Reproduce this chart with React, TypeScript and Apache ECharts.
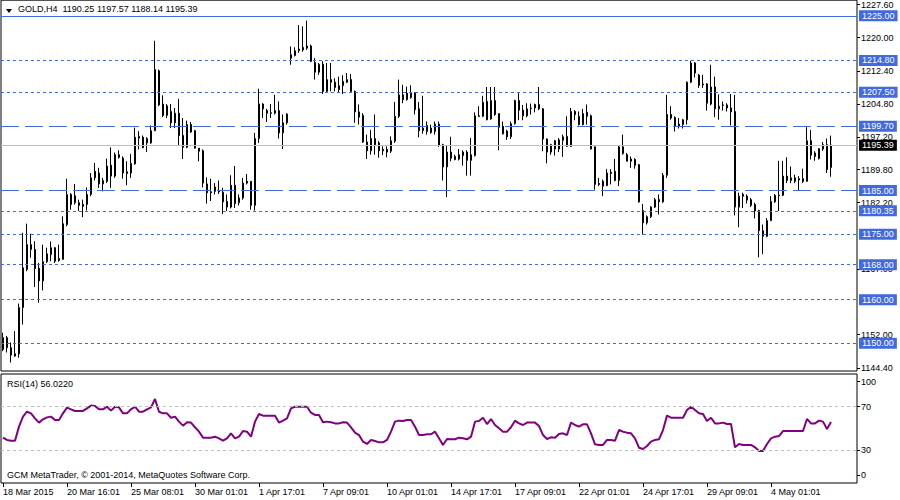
import React, { useEffect, useRef } from "react";
import * as echarts from "echarts";

// ---------- data ----------
const symbolName = "GOLD,H4";
const rsiName = "RSI(14)";
const copyright = "GCM MetaTrader, © 2001-2014, MetaQuotes Software Corp.";

const timeLabels = [
  "18 Mar 2015", "20 Mar 16:01", "25 Mar 08:01", "30 Mar 01:01", "1 Apr 17:01",
  "7 Apr 09:01", "10 Apr 01:01", "14 Apr 17:01", "17 Apr 09:01", "22 Apr 01:01",
  "24 Apr 17:01", "29 Apr 09:01", "4 May 01:01",
];

// visible price scale labels (those fully hidden behind level boxes are omitted)
const priceTicks = [1227.6, 1220.0, 1212.4, 1204.8, 1197.2, 1189.8, 1182.2, 1167.0, 1152.0, 1144.4];
const rsiTicks = [100, 70, 30, 0];
const rsiLevels = [70, 30];

const solidLevels = [1225.0];
const dashLevels = [1199.7, 1185.0];
const dotLevels = [1214.8, 1207.5, 1180.35, 1175.0, 1168.0, 1160.0, 1150.0];

// [open, high, low, close]
const candles: number[][] = [
  [1148.6,1152.4,1148.2,1151.3],[1151.3,1151.7,1147.9,1149.0],[1149.0,1150.2,1145.6,1147.3],[1147.6,1152.8,1146.9,1147.1],
  [1147.6,1159.1,1146.7,1158.2],[1158.2,1175.3,1154.3,1167.3],[1166.9,1177.4,1166.5,1172.6],[1172.6,1175.1,1169.6,1171.5],
  [1171.5,1173.4,1162.9,1167.1],[1167.2,1168.4,1159.3,1164.3],[1164.3,1172.6,1162.1,1168.7],[1168.7,1171.9,1168.4,1170.5],
  [1170.3,1173.3,1168.8,1171.9],[1171.9,1172.0,1168.4,1168.8],[1169.4,1172.6,1168.7,1169.0],[1169.2,1179.1,1169.2,1177.4],
  [1177.2,1187.7,1176.8,1184.1],[1184.1,1184.4,1180.6,1181.8],[1183.8,1186.5,1181.8,1182.2],[1182.2,1182.9,1180.3,1181.6],
  [1181.8,1182.9,1178.9,1181.4],[1181.8,1185.7,1180.4,1184.1],[1184.1,1189.0,1183.7,1187.9],[1187.9,1191.3,1187.3,1189.4],
  [1189.0,1190.2,1185.6,1186.5],[1186.5,1187.9,1184.8,1187.3],[1187.1,1192.3,1186.7,1190.6],[1190.8,1194.9,1185.6,1188.3],
  [1188.3,1193.7,1187.9,1193.2],[1193.2,1194.2,1192.3,1192.6],[1192.4,1192.8,1187.7,1189.0],[1189.3,1191.7,1186.2,1188.9],
  [1189.0,1193.4,1187.9,1191.2],[1191.1,1199.4,1190.9,1197.2],[1197.0,1198.6,1194.4,1197.4],[1197.2,1197.6,1194.7,1194.8],
  [1195.9,1197.2,1193.8,1196.9],[1195.9,1199.9,1195.7,1198.7],[1198.7,1219.3,1198.6,1212.7],[1212.4,1212.7,1204.3,1204.6],
  [1204.8,1206.8,1201.8,1202.2],[1202.2,1204.8,1201.6,1204.4],[1203.1,1204.8,1199.3,1200.5],[1200.5,1203.9,1199.3,1202.7],
  [1202.7,1206.0,1195.4,1197.6],[1197.6,1201.6,1192.2,1194.9],[1194.9,1201.0,1194.7,1200.1],[1200.1,1200.7,1198.2,1198.4],
  [1198.7,1198.9,1194.6,1194.7],[1194.7,1194.7,1191.7,1194.0],[1194.1,1194.4,1185.7,1186.7],[1186.5,1188.0,1182.0,1184.5],
  [1184.7,1187.7,1182.6,1184.5],[1184.8,1186.7,1184.1,1185.8],[1185.0,1187.3,1184.2,1184.7],[1184.6,1185.6,1179.6,1182.4],
  [1182.5,1184.1,1180.3,1181.2],[1181.2,1188.5,1180.9,1186.2],[1186.2,1190.6,1181.0,1182.0],[1182.2,1184.1,1181.6,1183.3],
  [1183.3,1187.9,1182.9,1186.7],[1187.1,1188.8,1186.4,1186.7],[1187.1,1187.1,1180.6,1181.6],[1181.6,1198.2,1180.4,1196.9],
  [1196.9,1208.3,1195.9,1204.8],[1204.8,1205.0,1201.6,1203.7],[1203.3,1203.7,1200.7,1202.7],[1202.8,1204.8,1201.6,1202.7],
  [1202.7,1206.9,1202.4,1203.3],[1203.3,1205.4,1196.9,1198.2],[1198.2,1202.4,1194.5,1200.5],[1200.5,1202.7,1200.1,1202.5],
  [1215.3,1218.0,1213.8,1216.1],[1215.9,1217.8,1215.7,1217.0],[1217.0,1222.9,1216.5,1217.4],[1217.2,1222.6,1216.8,1217.8],
  [1217.6,1223.9,1217.2,1218.1],[1218.1,1218.4,1214.4,1214.6],[1214.3,1215.3,1210.4,1212.1],[1212.1,1214.2,1211.5,1213.9],
  [1213.9,1214.6,1207.1,1207.7],[1207.7,1214.2,1207.5,1210.4],[1210.4,1214.2,1207.7,1209.8],[1209.8,1210.7,1207.7,1208.6],
  [1208.1,1211.1,1207.5,1209.0],[1209.0,1211.4,1207.1,1210.0],[1209.8,1211.9,1209.6,1210.4],[1210.4,1211.7,1207.5,1207.7],
  [1207.7,1207.9,1200.5,1203.0],[1203.0,1204.7,1200.1,1201.8],[1202.2,1202.7,1195.9,1196.1],[1196.1,1197.8,1192.2,1194.1],
  [1194.1,1198.9,1193.2,1196.9],[1196.9,1202.4,1193.2,1195.5],[1195.9,1196.3,1192.5,1194.1],[1194.4,1195.1,1193.1,1194.1],
  [1193.8,1195.1,1192.6,1194.4],[1194.0,1197.4,1193.6,1196.4],[1196.3,1205.3,1195.9,1202.0],[1202.0,1210.4,1201.6,1206.9],
  [1206.9,1209.2,1205.0,1205.8],[1205.8,1208.8,1205.6,1207.3],[1206.3,1209.1,1206.0,1207.3],[1207.3,1207.5,1202.4,1203.5],
  [1203.7,1205.3,1197.2,1198.7],[1198.7,1206.7,1198.0,1199.3],[1198.5,1200.8,1197.8,1199.9],[1199.3,1200.1,1198.0,1198.3],
  [1198.5,1200.8,1197.8,1200.2],[1200.2,1200.8,1195.0,1195.3],[1195.5,1195.7,1187.3,1190.4],[1190.4,1195.3,1183.5,1193.8],
  [1193.8,1197.3,1191.7,1192.4],[1192.8,1193.2,1191.9,1192.1],[1192.2,1194.5,1191.9,1193.2],[1193.0,1194.2,1190.7,1193.8],
  [1193.8,1194.2,1188.4,1191.9],[1191.9,1197.0,1188.4,1193.2],[1193.0,1202.9,1192.8,1202.1],[1202.1,1204.3,1201.8,1202.0],
  [1202.0,1206.7,1201.8,1205.2],[1205.4,1208.7,1201.1,1201.2],[1201.4,1208.7,1201.2,1205.6],[1205.6,1208.7,1202.1,1202.4],
  [1202.6,1202.7,1194.2,1199.5],[1199.7,1200.8,1197.8,1198.0],[1198.6,1198.9,1196.6,1197.3],[1197.3,1200.8,1196.8,1200.3],
  [1200.3,1205.8,1200.1,1205.6],[1205.6,1207.3,1201.1,1203.4],[1203.4,1204.6,1201.1,1202.1],[1202.1,1205.0,1201.8,1203.7],
  [1203.9,1204.9,1202.4,1203.8],[1203.9,1204.9,1202.9,1204.7],[1204.7,1208.7,1203.4,1203.7],[1203.7,1203.9,1194.0,1196.8],
  [1196.8,1196.9,1191.2,1193.8],[1193.8,1195.7,1193.2,1195.5],[1196.4,1196.6,1193.0,1194.5],[1194.5,1197.0,1193.8,1196.6],
  [1196.5,1197.8,1192.7,1197.3],[1195.1,1202.0,1195.0,1197.4],[1195.1,1203.9,1195.0,1203.1],[1203.1,1203.4,1201.1,1202.4],
  [1202.0,1203.1,1199.9,1200.1],[1200.1,1203.7,1199.9,1202.6],[1202.9,1204.7,1200.1,1202.0],[1202.1,1202.4,1194.4,1194.5],
  [1195.0,1195.1,1185.2,1186.4],[1186.6,1187.9,1186.0,1186.4],[1187.1,1187.5,1183.7,1186.0],[1186.1,1189.9,1186.0,1189.0],
  [1189.2,1189.9,1186.4,1188.9],[1189.4,1192.2,1187.1,1187.3],[1187.3,1195.3,1186.0,1195.0],[1195.0,1197.8,1193.2,1193.5],
  [1193.2,1193.6,1191.7,1191.7],[1192.2,1192.8,1190.2,1191.7],[1192.1,1192.4,1190.0,1190.8],[1190.9,1191.1,1182.2,1182.4],
  [1180.4,1181.9,1174.9,1177.6],[1177.6,1179.3,1177.2,1179.0],[1179.0,1181.4,1178.7,1181.2],[1181.2,1183.3,1181.0,1182.9],
  [1182.9,1184.1,1179.5,1182.4],[1182.4,1189.0,1182.2,1188.5],[1188.5,1206.9,1187.9,1202.4],[1202.4,1204.3,1201.2,1201.6],
  [1201.7,1202.0,1198.5,1199.7],[1199.7,1201.6,1199.2,1200.2],[1200.1,1201.4,1199.2,1201.2],[1201.2,1210.0,1200.1,1209.8],
  [1209.8,1214.7,1209.6,1214.2],[1214.2,1214.4,1210.9,1211.9],[1211.4,1211.7,1208.5,1209.1],[1209.4,1211.5,1208.5,1209.2],
  [1209.4,1209.6,1203.3,1205.0],[1204.8,1213.8,1204.5,1208.7],[1208.7,1211.1,1201.8,1203.7],[1203.7,1207.0,1201.2,1204.3],
  [1204.6,1205.4,1203.3,1204.5],[1204.6,1205.0,1203.1,1203.9],[1203.9,1207.1,1199.9,1203.0],[1203.1,1206.9,1179.3,1181.2],
  [1181.2,1184.5,1176.6,1183.7],[1184.1,1184.5,1181.0,1183.7],[1183.7,1184.1,1182.0,1182.8],[1182.9,1183.3,1181.2,1181.6],
  [1181.8,1182.2,1178.6,1180.3],[1180.4,1180.6,1169.7,1175.8],[1175.8,1177.2,1170.4,1174.5],[1174.5,1178.7,1174.3,1178.1],
  [1178.1,1183.7,1178.0,1182.5],[1182.4,1184.2,1182.2,1183.9],[1183.9,1191.8,1180.3,1183.8],[1183.9,1191.8,1183.7,1188.3],
  [1188.3,1192.6,1186.7,1187.3],[1187.3,1190.5,1186.7,1187.9],[1187.9,1188.6,1186.7,1187.1],[1187.7,1188.3,1185.0,1187.4],
  [1187.7,1190.0,1186.7,1187.1],[1187.1,1199.5,1187.0,1196.4],[1196.4,1198.9,1192.1,1193.1],[1193.6,1194.0,1191.8,1192.8],
  [1192.3,1194.7,1192.1,1194.6],[1194.5,1196.1,1194.1,1195.5],[1195.5,1196.9,1189.0,1189.8],[1190.25,1197.57,1188.14,1195.39],
];

const rsi = [
  41.6,39.5,38.8,38.8,51.7,60.9,65.4,63.9,59.3,55.4,
  58.4,60.2,60.9,57.8,57.8,63.9,69.1,67.6,66.1,66.1,
  66.1,68.5,71.0,70.6,67.6,67.6,70.0,66.4,70.0,69.4,
  63.9,63.9,67.6,70.0,65.4,65.4,67.6,69.4,77.1,65.4,
  63.9,63.9,59.9,60.9,56.3,52.6,55.7,55.4,51.1,47.1,
  41.6,41.6,41.6,42.5,41.0,38.8,41.0,45.6,41.0,42.5,
  47.7,47.1,42.5,56.3,63.3,61.8,61.8,61.8,61.8,55.4,
  57.2,59.3,68.5,70.0,70.0,70.0,70.0,64.5,62.4,62.4,
  55.7,56.3,55.7,54.7,54.7,55.7,55.4,51.1,46.2,44.0,
  37.9,35.8,39.5,38.5,37.3,37.3,39.5,47.1,56.3,57.2,
  56.9,57.8,57.8,51.7,44.0,44.0,44.7,44.7,47.1,41.0,
  34.9,40.4,40.1,40.1,41.6,41.0,40.1,42.5,56.3,56.9,
  59.9,54.1,58.7,53.2,50.2,47.1,47.1,51.1,57.2,54.7,
  53.2,55.4,55.4,55.4,52.3,44.0,40.4,41.9,41.6,44.9,
  45.6,44.0,55.4,53.2,51.7,53.8,53.8,45.6,35.5,34.9,
  34.9,39.5,39.5,38.8,48.6,47.1,46.2,45.6,41.0,32.4,
  31.2,33.9,37.9,39.5,40.1,48.6,61.8,59.9,59.9,59.9,
  59.9,67.0,70.0,67.0,63.9,63.3,56.9,59.9,54.7,54.7,
  55.4,54.1,54.1,32.7,35.8,34.9,34.9,34.9,32.7,29.4,
  29.4,35.8,41.0,42.5,43.1,47.7,47.7,47.7,47.7,47.7,
  47.7,58.7,54.7,54.7,57.2,56.3,49.5,56.022,
];

// ---------- styling ----------
const FONT = "'Liberation Sans', Arial, sans-serif";
const FS = 9;
const BLUE = "#4169E1";
const SLOTS = 214; // bar slots across the chart (includes right shift space)

export default function App() {
  const ref = useRef<HTMLDivElement>(null);

  useEffect(() => {
    document.body.style.margin = "0";
    const chart = echarts.init(ref.current!, null, { renderer: "svg" });

    const cats = Array.from({ length: SLOTS }, (_, i) => String(i));
    const candleData = candles.map(([o, h, l, c]) => [o, c, l, h]);
    const last = candles[candles.length - 1];
    const lastClose = last[3];
    const lastRsi = rsi[rsi.length - 1];
    const isTick = (i: number) => i % 16 === 0 && i / 16 < timeLabels.length;
    const rsiPos = (v: number) => (v === 100 ? 93 : v === 0 ? 7 : v);

    const levelLine = (v: number, type: any, color = BLUE, bg = BLUE) => ({
      yAxis: v,
      lineStyle: { type, color, width: 1 },
      label: { backgroundColor: bg },
    });

    const option: any = {
      animation: false,
      backgroundColor: "#ffffff",
      textStyle: { fontFamily: FONT },
      grid: [
        { left: 1, top: 0, width: 856, height: 371, show: true, borderColor: "#000", borderWidth: 1, backgroundColor: "#fff" },
        { left: 1, top: 374, width: 856, height: 109, show: true, borderColor: "#000", borderWidth: 1, backgroundColor: "#fff" },
      ],
      xAxis: [
        {
          type: "category", gridIndex: 0, data: cats, boundaryGap: true,
          axisLine: { show: false }, axisTick: { show: false }, axisLabel: { show: false }, splitLine: { show: false },
        },
        {
          type: "category", gridIndex: 1, data: cats, boundaryGap: true,
          axisLine: { show: false },
          axisTick: { show: true, interval: (i: number) => isTick(i), alignWithLabel: true, length: 4, lineStyle: { color: "#000" } },
          axisLabel: {
            show: true, interval: (i: number) => isTick(i),
            formatter: (v: string) => timeLabels[Number(v) / 16] ?? "",
            align: "left", margin: 4, color: "#000", fontSize: FS, fontFamily: FONT,
          },
          splitLine: { show: false },
        },
      ],
      yAxis: [
        {
          type: "value", gridIndex: 0, position: "right", min: 1143.66, max: 1228.59,
          splitLine: { show: false }, axisLine: { show: false },
          axisTick: { show: true, length: 3, customValues: priceTicks, lineStyle: { color: "#000" } },
          axisLabel: {
            customValues: priceTicks, formatter: (v: number) => v.toFixed(2),
            color: "#000", fontSize: FS, fontFamily: FONT, margin: 4,
          },
        },
        {
          type: "value", gridIndex: 1, position: "right", min: 0, max: 100,
          splitLine: { show: false }, axisLine: { show: false },
          axisTick: { show: true, length: 3, customValues: rsiTicks.map(rsiPos), lineStyle: { color: "#000" } },
          axisLabel: {
            customValues: rsiTicks.map(rsiPos),
            formatter: (v: number) => String(rsiTicks.find((t) => rsiPos(t) === v) ?? v),
            color: "#000", fontSize: FS, fontFamily: FONT, margin: 4,
          },
        },
      ],
      series: [
        {
          type: "candlestick", xAxisIndex: 0, yAxisIndex: 0, data: candleData,
          barWidth: 2,
          itemStyle: { color: "#ffffff", color0: "#000000", borderColor: "#000000", borderColor0: "#000000", borderWidth: 1 },
          markLine: {
            silent: true, symbol: ["none", "none"], animation: false,
            label: {
              show: true, position: "end", distance: 2,
              formatter: (p: any) => Number(p.value).toFixed(2),
              color: "#fff", fontSize: FS, fontFamily: FONT,
              padding: [1, 3, 0, 3], lineHeight: 10,
            },
            data: [
              ...solidLevels.map((v) => levelLine(v, "solid")),
              ...dashLevels.map((v) => levelLine(v, [18, 6])),
              ...dotLevels.map((v) => levelLine(v, [3, 3])),
              levelLine(lastClose, "solid", "#c0c0c0", "#000"),
            ],
          },
        },
        {
          type: "line", xAxisIndex: 1, yAxisIndex: 1, data: rsi,
          symbol: "none", lineStyle: { color: "#800080", width: 2 },
          markLine: {
            silent: true, symbol: ["none", "none"], label: { show: false },
            lineStyle: { color: "#c0c0c0", type: [3, 3], width: 1 },
            data: rsiLevels.map((v) => ({ yAxis: v })),
          },
        },
      ],
      graphic: [
        { type: "polygon", shape: { points: [[6, 9], [12, 9], [9, 13]] }, style: { fill: "#000" } },
        {
          type: "text", x: 18, y: 9,
          style: {
            text: `${symbolName}  ${last[0].toFixed(2)} ${last[1].toFixed(2)} ${last[2].toFixed(2)} ${last[3].toFixed(2)}`,
            fill: "#000", font: `${FS}px ${FONT}`, verticalAlign: "middle",
          },
        },
        {
          type: "text", x: 7, y: 384,
          style: { text: `${rsiName} ${lastRsi.toFixed(4)}`, fill: "#000", font: `${FS}px ${FONT}`, verticalAlign: "middle" },
        },
        {
          type: "text", x: 7, y: 475,
          style: { text: copyright, fill: "#000", font: `${FS}px ${FONT}`, verticalAlign: "middle" },
        },
      ],
    };

    chart.setOption(option);
    return () => chart.dispose();
  }, []);

  return <div ref={ref} style={{ width: 900, height: 500 }} />;
}
